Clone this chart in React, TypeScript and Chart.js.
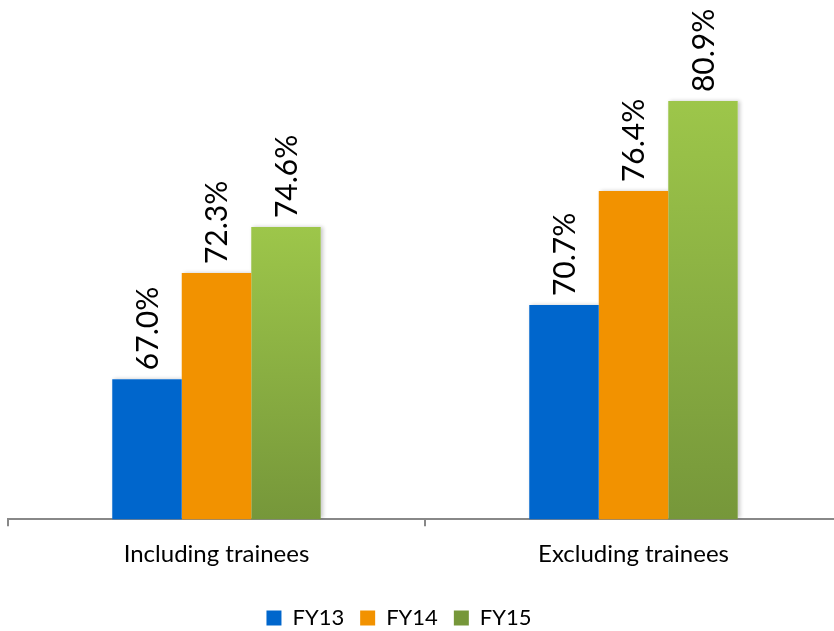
import React, { useEffect, useRef } from "react";
import { Chart, registerables } from "chart.js";

Chart.register(...registerables);

const categories = ["Including trainees", "Excluding trainees"];
const seriesNames = ["FY13", "FY14", "FY15"];
const fy13 = [67.0, 70.7];
const fy14 = [72.3, 76.4];
const fy15 = [74.6, 80.9];
const yMin = 60;
const yMax = 85;

const FONT = "Lato, 'Open Sans', sans-serif";

function greenFill(ctx: any) {
  const chart = ctx.chart;
  const c = chart.ctx;
  if (ctx.type === "data" && chart.scales && chart.scales.y) {
    const y = chart.scales.y;
    const top = y.getPixelForValue(ctx.raw);
    const bottom = y.getPixelForValue(yMin);
    if (isFinite(top) && isFinite(bottom) && bottom > top) {
      const g = c.createLinearGradient(0, top, 0, bottom);
      g.addColorStop(0, "#9DC64A");
      g.addColorStop(1, "#76973A");
      return g;
    }
  }
  const g = c.createLinearGradient(0, 609, 0, 625);
  g.addColorStop(0, "#9DC64A");
  g.addColorStop(1, "#76973A");
  return g;
}

const valueLabels = {
  id: "valueLabels",
  afterDatasetsDraw(chart: any) {
    const c = chart.ctx;
    chart.data.datasets.forEach((ds: any, di: number) => {
      const meta = chart.getDatasetMeta(di);
      meta.data.forEach((el: any, i: number) => {
        const v = ds.data[i];
        c.save();
        c.translate(el.x, el.y - 9);
        c.rotate(-Math.PI / 2);
        c.font = `30px ${FONT}`;
        c.fillStyle = "#000000";
        c.textAlign = "left";
        c.textBaseline = "middle";
        c.fillText(v.toFixed(1) + "%", 0, 1);
        c.restore();
      });
    });
  },
};

const barShadow = {
  id: "barShadow",
  beforeDatasetsDraw(chart: any) {
    const c = chart.ctx;
    const area = chart.chartArea;
    c.save();
    c.beginPath();
    c.rect(area.left, area.top - 20, area.right - area.left + 20, area.bottom - area.top + 20);
    c.clip();
    c.shadowColor = "rgba(0,0,0,0.22)";
    c.shadowBlur = 4;
    c.shadowOffsetX = 2;
    c.shadowOffsetY = 0;
    chart.data.datasets.forEach((ds: any, di: number) => {
      const meta = chart.getDatasetMeta(di);
      meta.data.forEach((el: any) => {
        const bottom = Math.min(el.base, area.bottom);
        c.fillStyle = "#ffffff";
        c.fillRect(el.x - el.width / 2, el.y, el.width, bottom - el.y - 1);
      });
    });
    c.restore();
  },
};

const legendShift = {
  id: "legendShift",
  afterLayout(chart: any) {
    const lg = chart.legend;
    if (lg) {
      lg.left -= 26;
      lg.right -= 26;
      lg.top += 8;
      lg.bottom += 8;
    }
  },
};

export default function App() {
  const ref = useRef<HTMLCanvasElement>(null);
  useEffect(() => {
    if (!ref.current) return;
    const chart = new Chart(ref.current, {
      type: "bar",
      data: {
        labels: categories,
        datasets: [
          { label: seriesNames[0], data: fy13, backgroundColor: "#0066CC" },
          { label: seriesNames[1], data: fy14, backgroundColor: "#F29200" },
          { label: seriesNames[2], data: fy15, backgroundColor: greenFill as any },
        ],
      },
      options: {
        responsive: false,
        animation: false,
        devicePixelRatio: 1,
        layout: { padding: { left: 8, right: 0, top: 19, bottom: 0 } },
        datasets: { bar: { categoryPercentage: 0.5, barPercentage: 1.0, borderWidth: 0 } },
        scales: {
          y: { display: false, min: yMin, max: yMax },
          x: {
            grid: {
              display: true,
              drawOnChartArea: false,
              drawTicks: true,
              tickLength: 7,
              color: "#888888",
              lineWidth: 2,
              offset: true,
            },
            border: { display: true, color: "#888888", width: 2 },
            ticks: {
              color: "#000000",
              font: { family: FONT, size: 24 },
              padding: 14,
            },
          },
        },
        plugins: {
          tooltip: { enabled: false },
          legend: {
            position: "bottom",
            labels: {
              color: "#000000",
              font: { family: FONT, size: 22 },
              boxWidth: 15,
              boxHeight: 15,
              padding: 16,
            },
          },
        },
      },
      plugins: [barShadow, valueLabels, legendShift],
    });
    return () => chart.destroy();
  }, []);
  return (
    <div style={{ position: "fixed", left: 0, top: 0, width: 834, height: 631, overflow: "hidden", background: "#fff" }}>
      <canvas ref={ref} width={842} height={631} style={{ display: "block" }} />
    </div>
  );
}
